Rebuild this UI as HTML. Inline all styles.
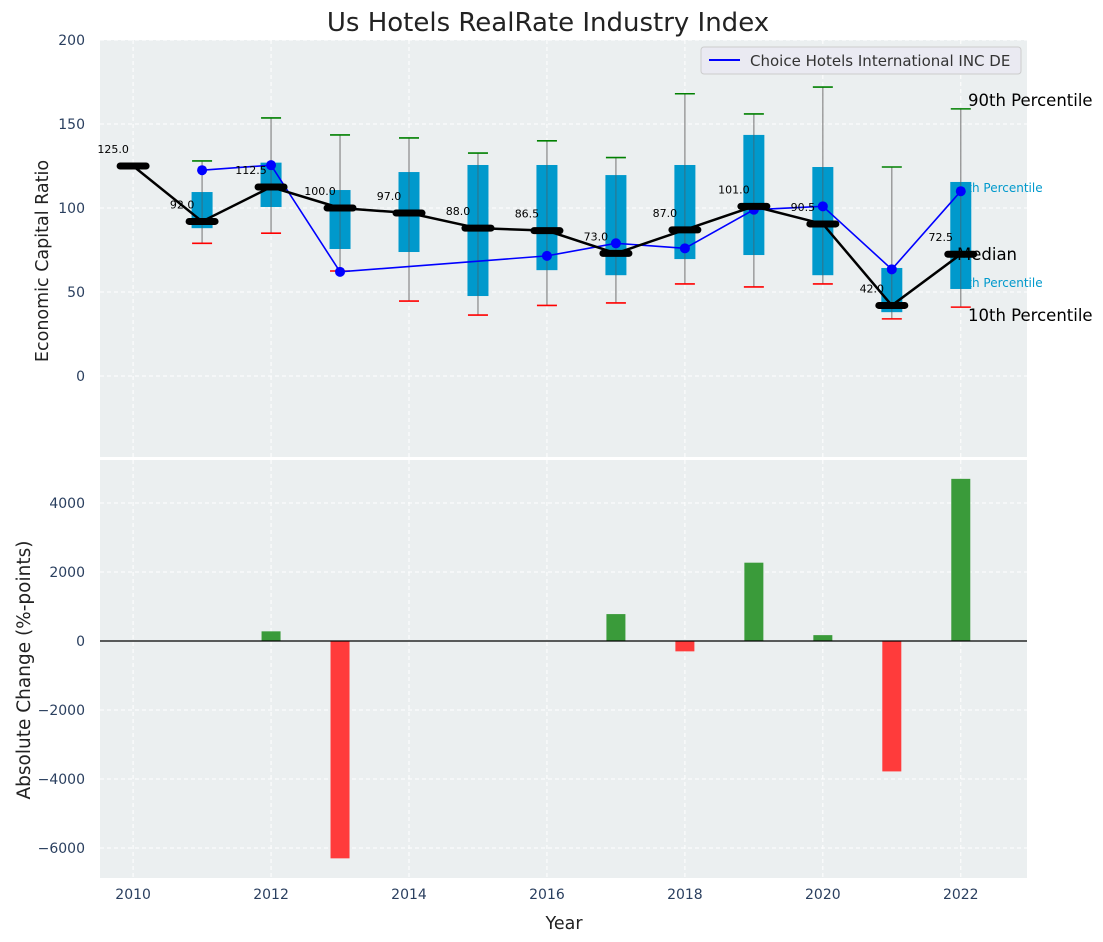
<!DOCTYPE html>
<html><head><meta charset="utf-8"><style>
body{margin:0;background:#fff}
svg{display:block;font-family:"DejaVu Sans","Liberation Sans",sans-serif}
</style></head><body>
<svg id="c" width="1103" height="942" viewBox="0 0 1103 942"></svg>
<script>
const years=[2010,2011,2012,2013,2014,2015,2016,2017,2018,2019,2020,2021,2022];
const medians=[125,92,112.5,100,97,88,86.5,73,87,101,90.5,42,72.5];
const q1=[null,88,100.6,75.6,73.8,47.6,63,60,69.6,72,60,38,51.8];
const q3=[null,109.5,127,110.7,121.4,125.6,125.6,119.6,125.6,143.5,124.4,64.3,115.5];
const p10=[null,79,85,62.5,44.6,36.3,42,43.5,54.8,53,54.8,34,41];
const p90=[null,128,153.6,143.5,141.7,132.7,140,130,168,156,172,124.4,159];
const company=[null,122.5,125.5,62,null,null,71.5,79,76,99,101,63.5,110];
const changes=[0,0,280,-6300,0,0,0,780,-300,2270,170,-3780,4700];
const topTicks=[0,50,100,150,200];
const botTicks=[-6000,-4000,-2000,0,2000,4000];
const xTicks=[2010,2012,2014,2016,2018,2020,2022];

const NS="http://www.w3.org/2000/svg";
const svg=document.getElementById('c');
function el(t,a,p){const e=document.createElementNS(NS,t);for(const k in a)e.setAttribute(k,a[k]);(p||svg).appendChild(e);return e;}
const L=100,R=1027;
const x=v=>L+(v-2009.52)*(R-L)/(2022.96-2009.52);
const yT=v=>376-v*1.68;
const yB=v=>641-v*0.0345;
const TT=40,TB=457,BT=460,BB=878;
const tc='#2a3f5f';

let a=el('rect',{x:L,y:TT,width:R-L,height:TB-TT,fill:'#ebeff0'});

a=el('rect',{x:L,y:BT,width:R-L,height:BB-BT,fill:'#ebeff0'});


xTicks.forEach(t=>{
  el('line',{x1:x(t),x2:x(t),y1:TT,y2:TB,stroke:'#fff','stroke-dasharray':'4,3','stroke-width':1});
  el('line',{x1:x(t),x2:x(t),y1:BT,y2:BB,stroke:'#fff','stroke-dasharray':'4,3','stroke-width':1});
  const tx=el('text',{x:x(t),y:BB+21,'text-anchor':'middle','font-size':14,fill:tc});tx.textContent=t;
  
});
topTicks.forEach(t=>{
  el('line',{x1:L,x2:R,y1:yT(t),y2:yT(t),stroke:'#fff','stroke-dasharray':'4,3'});
  const tx=el('text',{x:L-15,y:yT(t)+5,'text-anchor':'end','font-size':14,fill:tc});tx.textContent=t;
  
});
botTicks.forEach(t=>{
  el('line',{x1:L,x2:R,y1:yB(t),y2:yB(t),stroke:'#fff','stroke-dasharray':'4,3'});
  const tx=el('text',{x:L-15,y:yB(t)+5,'text-anchor':'end','font-size':14,fill:tc});tx.textContent=t<0?'\u2212'+(-t):t;
  
});

function txt(s,xx,yy,fs,fill,name){const t=el('text',{x:xx,y:yy,'font-size':fs,fill:fill});t.textContent=s;return t;}
txt('75th Percentile',952,192,12,'#0099cc','p75-annotation');
txt('25th Percentile',952,287,12,'#0099cc','p25-annotation');

years.forEach((yr,i)=>{
  if(q1[i]==null)return;
  const cx=x(yr);
  let w=el('line',{x1:cx,x2:cx,y1:yT(p10[i]),y2:yT(p90[i]),stroke:'#888','stroke-width':1.2});
  
  let b=el('rect',{x:cx-10.5,y:yT(q3[i]),width:21,height:yT(q1[i])-yT(q3[i]),fill:'#0099cc'});
  
  el('line',{x1:cx,x2:cx,y1:yT(q3[i]),y2:yT(q1[i]),stroke:'#555','stroke-width':1,'stroke-opacity':0.6});
  let g=el('line',{x1:cx-10,x2:cx+10,y1:yT(p90[i]),y2:yT(p90[i]),stroke:'green','stroke-width':1.6});
  
  let r=el('line',{x1:cx-10,x2:cx+10,y1:yT(p10[i]),y2:yT(p10[i]),stroke:'red','stroke-width':1.6});
  
});

let pts=[];years.forEach((yr,i)=>{if(company[i]!=null)pts.push(x(yr)+','+yT(company[i]));});
let cl=el('polyline',{points:pts.join(' '),fill:'none',stroke:'blue','stroke-width':1.6});

years.forEach((yr,i)=>{if(company[i]==null)return;
  const c=el('circle',{cx:x(yr),cy:yT(company[i]),r:5,fill:'blue'});
  });

let ml=el('polyline',{points:years.map((yr,i)=>x(yr)+','+yT(medians[i])).join(' '),fill:'none',stroke:'#000','stroke-width':2.5});

years.forEach((yr,i)=>{
  const m=el('line',{x1:x(yr)-13,x2:x(yr)+13,y1:yT(medians[i]),y2:yT(medians[i]),stroke:'#000','stroke-width':7,'stroke-linecap':'round'});
  
  const t=el('text',{x:x(yr)-20,y:yT(medians[i])-13,'text-anchor':'middle','font-size':11,fill:'#000'});t.textContent=medians[i].toFixed(1);
  
});

txt('90th Percentile',968,106,16.5,'#000','p90-annotation');
txt('Median',957,260,16.5,'#000','median-annotation');
txt('10th Percentile',968,321,16.5,'#000','p10-annotation');

let lg=el('g',{});
el('rect',{x:701,y:47,width:320,height:27,rx:3,fill:'#eaeaf2',stroke:'#ccc'},lg);
el('line',{x1:709,x2:740,y1:60,y2:60,stroke:'blue','stroke-width':2},lg);
let lt=el('text',{x:750,y:66,'font-size':15,fill:'#333'},lg);lt.textContent='Choice Hotels International INC DE';

years.forEach((yr,i)=>{
  const v=changes[i];if(v===0)return;
  const y0=yB(0),y1=yB(v);
  const b=el('rect',{x:x(yr)-9.5,y:Math.min(y0,y1),width:19,height:Math.abs(y1-y0),fill:v>0?'#3a9b3a':'#ff3b3b'});
  
});
el('line',{x1:L,x2:R,y1:yB(0),y2:yB(0),stroke:'#000','stroke-width':1.2});

let t=txt('Us Hotels RealRate Industry Index',548,31,26,'#222','chart-title');t.setAttribute('text-anchor','middle');
t=txt('Year',564,929,17.5,'#222','x-axis-title');t.setAttribute('text-anchor','middle');
t=el('text',{x:0,y:0,'font-size':17.5,fill:'#222','text-anchor':'middle',transform:'translate(48,261) rotate(-90)'});t.textContent='Economic Capital Ratio';

t=el('text',{x:0,y:0,'font-size':18.5,fill:'#222','text-anchor':'middle',transform:'translate(30,670) rotate(-90)'});t.textContent='Absolute Change (%-points)';

</script>
</body></html>
